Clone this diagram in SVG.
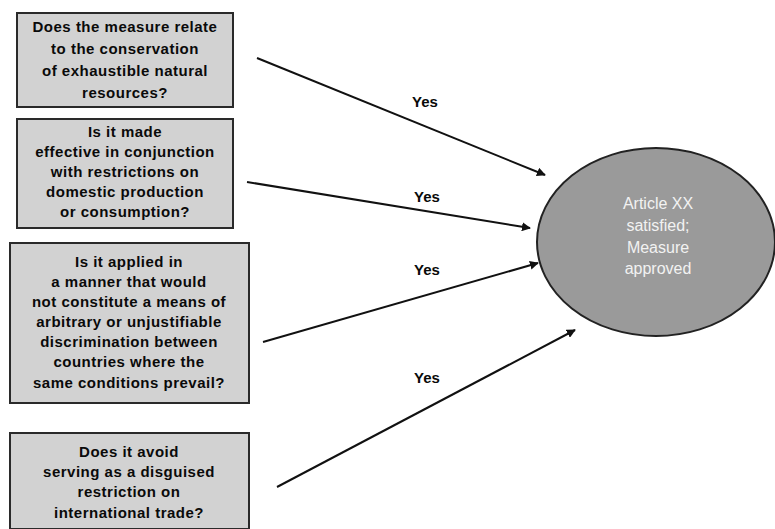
<svg xmlns="http://www.w3.org/2000/svg" width="775" height="529" viewBox="0 0 775 529">
<defs>
<marker id="ah" viewBox="0 0 10 10" refX="9" refY="5" markerWidth="9" markerHeight="9" markerUnits="userSpaceOnUse" orient="auto"><path d="M0,0 L10,5 L0,10 z" fill="#111"/></marker>
<style>
.box{fill:#d2d2d2;stroke:#2a2a2a;stroke-width:2}
.bt{font-family:"Liberation Sans",Arial,sans-serif;font-weight:bold;font-size:15px;letter-spacing:0.5px;fill:#0a0a0a;text-anchor:middle}
.yes{font-family:"Liberation Sans",Arial,sans-serif;font-weight:bold;font-size:15px;fill:#0a0a0a}
.et{font-family:"Liberation Sans",Arial,sans-serif;font-size:16px;fill:#f2f2f2;text-anchor:middle}
.c{stroke:#111;stroke-width:2;fill:none;marker-end:url(#ah)}
</style>
</defs>
<rect width="775" height="529" fill="#fff"/>
<g id="n1"><rect class="box" x="17" y="13" width="216" height="94"/>
<text class="bt"><tspan x="125" y="32">Does the measure relate</tspan><tspan x="125" y="54">to the conservation</tspan><tspan x="125" y="76">of exhaustible natural</tspan><tspan x="125" y="98">resources?</tspan></text></g>
<g id="n2"><rect class="box" x="17" y="119" width="216" height="109"/>
<text class="bt"><tspan x="125" y="137">Is it made</tspan><tspan x="125" y="157">effective in conjunction</tspan><tspan x="125" y="177">with restrictions on</tspan><tspan x="125" y="197">domestic production</tspan><tspan x="125" y="217">or consumption?</tspan></text></g>
<g id="n3"><rect class="box" x="10" y="243" width="239" height="160"/>
<text class="bt"><tspan x="129" y="267">Is it applied in</tspan><tspan x="129" y="287">a manner that would</tspan><tspan x="129" y="307">not constitute a means of</tspan><tspan x="129" y="327">arbitrary or unjustifiable</tspan><tspan x="129" y="347">discrimination between</tspan><tspan x="129" y="367">countries where the</tspan><tspan x="129" y="388">same conditions prevail?</tspan></text></g>
<g id="n4"><rect class="box" x="10" y="433" width="239" height="96"/>
<text class="bt"><tspan x="129" y="457">Does it avoid</tspan><tspan x="129" y="477">serving as a disguised</tspan><tspan x="129" y="497">restriction on</tspan><tspan x="129" y="518">international trade?</tspan></text></g>
<g id="n5"><ellipse cx="656" cy="242" rx="119" ry="94" fill="#9a9a9a" stroke="#222" stroke-width="2"/>
<text class="et"><tspan x="658" y="209">Article XX</tspan><tspan x="658" y="231">satisfied;</tspan><tspan x="658" y="253">Measure</tspan><tspan x="658" y="274">approved</tspan></text></g>
<g id="connectors">
<line class="c" x1="257" y1="58" x2="545" y2="175"/>
<line class="c" x1="247" y1="182" x2="530" y2="228"/>
<line class="c" x1="263" y1="342" x2="538" y2="263"/>
<line class="c" x1="277" y1="487" x2="575" y2="330"/>
<text class="yes" x="412" y="107">Yes</text>
<text class="yes" x="414" y="202">Yes</text>
<text class="yes" x="414" y="275">Yes</text>
<text class="yes" x="414" y="383">Yes</text>
</g>
</svg>
